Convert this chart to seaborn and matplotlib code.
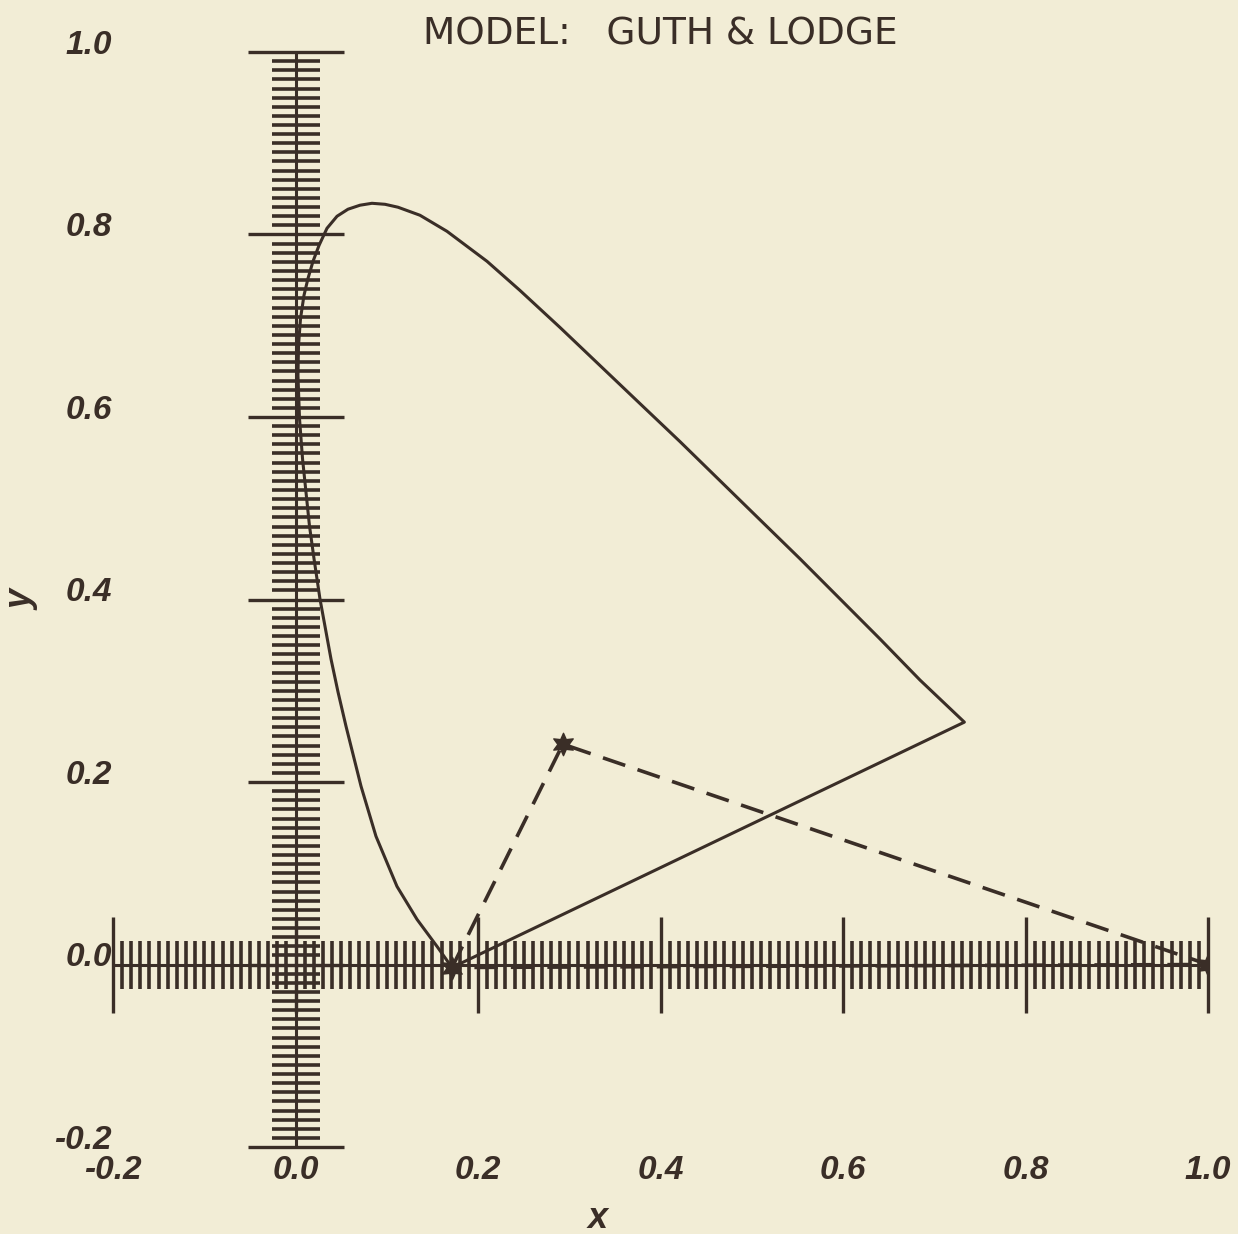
import matplotlib
matplotlib.use("Agg")
import numpy as np
import pandas as pd
import matplotlib.pyplot as plt
from matplotlib.ticker import MultipleLocator
import seaborn as sns

# Spectrum locus of the Guth & Lodge model, traced from the violet end,
# up the short-wave branch, over the top and down to the long-wave end.
locus_x = [0.1715, 0.1551, 0.1332, 0.1112, 0.0882, 0.0718, 0.0553, 0.0466,
           0.0389, 0.0268, 0.0203, 0.0153, 0.0077, 0.0044, 0.0027, 0.0033,
           0.0055, 0.0093, 0.0137, 0.0192, 0.0258, 0.0345, 0.0455, 0.0575,
           0.0707, 0.0838, 0.0981, 0.1123, 0.1364, 0.1660, 0.2099, 0.2460,
           0.2899, 0.3337, 0.3775, 0.4214, 0.4652, 0.5090, 0.5529, 0.5967,
           0.6405, 0.6844, 0.7330]
locus_y = [-0.0033, 0.0198, 0.0494, 0.0856, 0.1405, 0.1954, 0.2613, 0.2986,
           0.3348, 0.4007, 0.4446, 0.4808, 0.5543, 0.5982, 0.6454, 0.6784,
           0.7080, 0.7333, 0.7519, 0.7706, 0.7881, 0.8068, 0.8200, 0.8277,
           0.8321, 0.8342, 0.8331, 0.8299, 0.8211, 0.8035, 0.7706, 0.7387,
           0.6981, 0.6564, 0.6147, 0.5730, 0.5302, 0.4874, 0.4446, 0.4007,
           0.3568, 0.3117, 0.2656]

# Primaries of the model
primary_x = [0.1715, 0.2930, 1.0000]
primary_y = [-0.0033, 0.2415, 0.0000]

tick_values = [-0.2, 0.0, 0.2, 0.4, 0.6, 0.8, 1.0]
tick_labels = ["-0.2", "0.0", "0.2", "0.4", "0.6", "0.8", "1.0"]
title_text = "MODEL:   GUTH & LODGE"

paper = "#f2edd6"
ink = "#3a2e27"

sns.set_theme(style="white")
plt.rcParams["font.family"] = ["Liberation Sans", "DejaVu Sans"]

# closed outlines: locus joined by the purple line, triangle of primaries
locus = pd.DataFrame({"x": locus_x + locus_x[:1], "y": locus_y + locus_y[:1]})
triangle = pd.DataFrame({"x": primary_x + primary_x[:1], "y": primary_y + primary_y[:1]})
primaries = pd.DataFrame({"x": primary_x, "y": primary_y})

fig = plt.figure(figsize=(12.38, 12.34), dpi=100, facecolor=paper)
ax = fig.add_axes([113 / 1238, 1 - 1147 / 1234, 1095 / 1238, 1095 / 1234])
ax.set_facecolor(paper)

sns.lineplot(data=locus, x="x", y="y", sort=False, estimator=None, ax=ax,
             color=ink, linewidth=2.2, zorder=3)
sns.lineplot(data=triangle, x="x", y="y", sort=False, estimator=None, ax=ax,
             color=ink, linewidth=2.6, dashes=(6.5, 3.6), zorder=3)
sns.scatterplot(data=primaries, x="x", y="y", ax=ax, marker=(6, 1, 0),
                s=260, color=ink, edgecolor=ink, linewidth=1, zorder=4)

ax.set_xlim(-0.2, 1.0)
ax.set_ylim(-0.2, 1.0)

# axes crossing at the origin
for side in ("top", "right"):
    ax.spines[side].set_visible(False)
ax.spines["left"].set_position(("data", 0.0))
ax.spines["bottom"].set_position(("data", 0.0))
for side in ("left", "bottom"):
    ax.spines[side].set_color(ink)
    ax.spines[side].set_linewidth(2.2)
    ax.spines[side].set_capstyle("butt")

for axis in (ax.xaxis, ax.yaxis):
    axis.set_major_locator(MultipleLocator(0.2))
    axis.set_minor_locator(MultipleLocator(0.01))
ax.tick_params(which="both", bottom=True, left=True, top=False, right=False,
               labelleft=False, labelbottom=False)
ax.tick_params(which="major", direction="inout", length=69, width=2.4,
               color=ink)
ax.tick_params(which="minor", direction="inout", length=35, width=2.6,
               color=ink)
ax.set_xlabel("")
ax.set_ylabel("")

# tick labels along the frame edges
tick_font = dict(family=["Liberation Sans", "DejaVu Sans"], fontsize=24,
                 fontweight="bold", fontstyle="italic", color=ink)
for v, lab in zip(tick_values, tick_labels):
    ax.annotate(lab, xy=(0, v), xycoords=("axes fraction", "data"),
                xytext=(-1, 5), textcoords="offset points",
                ha="right", va="center", **tick_font)
    ax.annotate(lab, xy=(v, 0), xycoords=("data", "axes fraction"),
                xytext=(0, -17), textcoords="offset points",
                ha="center", va="center", **tick_font)

ax.text(0.443, -0.065, "x", transform=ax.transAxes, ha="center", va="center",
        fontsize=26, fontstyle="italic", fontweight="bold", color=ink)
ax.text(-0.083, 0.5, "y", transform=ax.transAxes, ha="center", va="center",
        rotation=90, fontsize=26, fontstyle="italic", fontweight="bold",
        color=ink)

ax.set_title(title_text, fontsize=27, color=ink, pad=5,
             family=["DejaVu Sans"])

fig.savefig("out.png", dpi=100, facecolor=paper)
